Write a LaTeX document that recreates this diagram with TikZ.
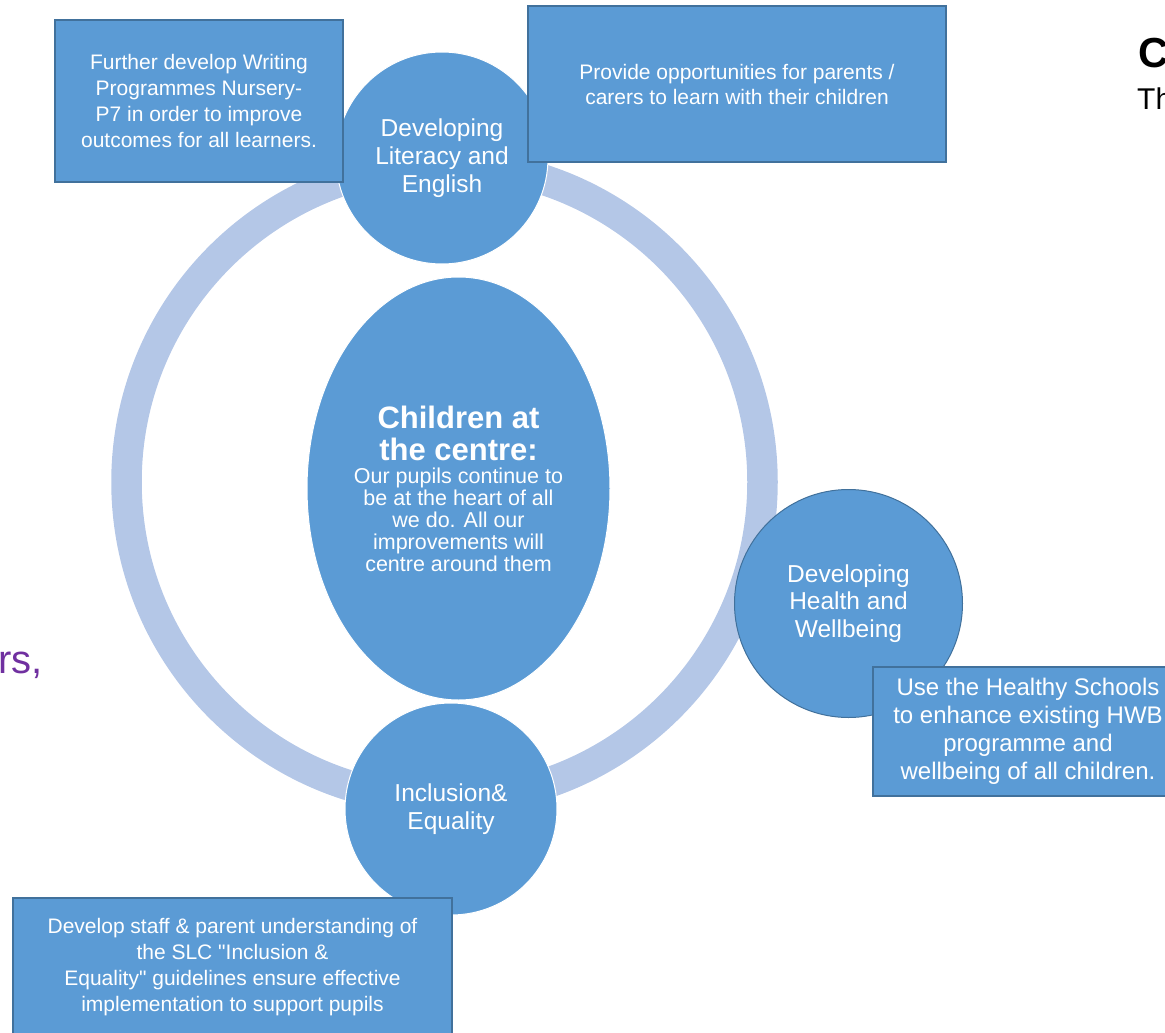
\documentclass[tikz,border=0pt]{standalone}
\usepackage{fontspec}
\setmainfont{Liberation Sans}[Ligatures=TeXOff]
\usetikzlibrary{shapes.geometric}

\definecolor{hubblue}{HTML}{5B9BD5}
\definecolor{ringblue}{HTML}{B4C7E7}
\definecolor{edgeblue}{HTML}{41719C}
\definecolor{notepurple}{HTML}{7030A0}
\newcommand{\headfont}{\fontsize{31}{32}\selectfont\bfseries}

\begin{document}
\begin{tikzpicture}[
    x=1pt, y=-1pt,
    hub/.style={circle, fill=hubblue, draw=white, line width=1pt, inner sep=0pt, minimum size=212pt, align=center, text=white, font=\fontsize{24.5}{28}\selectfont},
    goal/.style={rectangle, fill=hubblue, draw=edgeblue, line width=1.6pt, inner sep=0pt, align=center, text=white, font=\fontsize{21}{26}\selectfont},
    ring/.style={draw=ringblue, line width=30.5pt},
    side/.style={anchor=base west, inner sep=0pt}
]
\useasboundingbox (0,0) rectangle (1165,1033);

% Outer ring
\draw[ring] (444.5,482) circle[radius=318pt];

% Centre ellipse
\node[ellipse, fill=hubblue, draw=white, line width=1pt, inner sep=0pt, minimum width=303pt, minimum height=423pt, align=center, text=white, font=\fontsize{21.5}{22}\selectfont] (heart) at (458.5,488.5)
    {\headfont Children at\\[8pt]\headfont the centre:\\[1pt]Our pupils continue to\\be at the heart of all\\we do.  All our\\improvements will\\centre around them};

% Themes on the ring
\node[hub] (literacy) at (442,158) {Developing\\Literacy and\\English};
\node[hub] (inclusion) at (451,809) {Inclusion\&\\Equality};
\node[hub, draw=edgeblue, minimum size=228pt, font=\fontsize{24.5}{27.5}\selectfont] (health) at (848.5,603.5) {Developing\\Health and\\Wellbeing};

% Actions
\node[goal, minimum width=288pt, minimum height=162pt] (writing) at (199,101) {Further develop Writing\\Programmes Nursery-\\P7 in order to improve\\outcomes for all learners.};
\node[goal, minimum width=418pt, minimum height=156pt, font=\fontsize{21}{25}\selectfont] (parents) at (737,84) {Provide opportunities for parents /\\carers to learn with their children};
\node[goal, minimum width=310pt, minimum height=129pt, font=\fontsize{24}{28}\selectfont] (healthy) at (1028,731.5) {Use the Healthy Schools\\to enhance existing HWB\\programme and\\wellbeing of all children.};
\node[goal, minimum width=439pt, minimum height=139pt] (staff) at (232.5,967.5) {Develop staff \& parent understanding of\\the SLC "Inclusion \&\\Equality"  guidelines ensure effective\\implementation  to support pupils};

% Cut-off slide text
\node[side, font=\fontsize{42}{44}\selectfont\bfseries] (titlebit) at (1138,68) {C};
\node[side, font=\fontsize{30}{32}\selectfont] (introbit) at (1137,110) {Th};
\node[side, text=notepurple, font=\fontsize{40}{42}\selectfont] (listbit) at (-2,673) {rs,};

\end{tikzpicture}
\end{document}
